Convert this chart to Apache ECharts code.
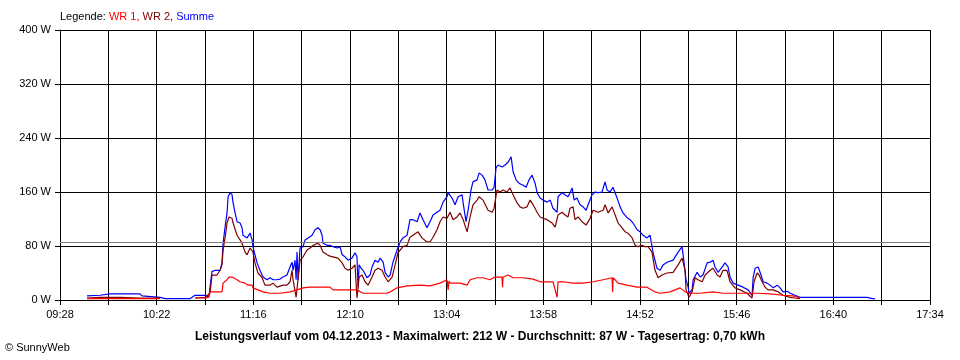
<!DOCTYPE html>
<html><head><meta charset="utf-8">
<script src="https://cdn.jsdelivr.net/npm/echarts@6/dist/echarts.min.js"></script>
<style>html,body{margin:0;padding:0;background:#fff}#c{width:960px;height:360px}</style>
</head><body><div id="c"></div>
<script>
// x values: minutes after 09:28
const timeLabels = ['09:28','10:22','11:16','12:10','13:04','13:58','14:52','15:46','16:40','17:34'];
const yMax = 400;
const yStep = 80;
const averageW = 85;
const legendParts = ['Legende: ', 'WR 1, ', 'WR 2, ', 'Summe'];
const titleText = 'Leistungsverlauf vom 04.12.2013 - Maximalwert: 212 W - Durchschnitt: 87 W - Tagesertrag: 0,70 kWh';
const creditText = '\u00A9 SunnyWeb';

const summe = [[15.1,6],[22.3,7],[27.9,9],[44.7,9],[45.8,6],[55.9,4],[58.7,2],[72.6,2],[75.4,7],[81.0,7],
[83.2,4],[83.8,19],[84.9,42],[86.6,44],[89.4,44],[90.5,55],[91.1,84],[92.2,108],[93.3,129],[93.9,153],
[95.0,159],[96.1,156],[96.7,144],[97.8,129],[98.9,116],[100.6,114],[101.7,107],[102.2,96],[104.5,92],[106.2,99],
[107.3,89],[107.8,79],[108.9,67],[110.1,55],[111.7,44],[113.4,34],[115.6,30],[117.3,33],[119.0,30],[121.2,30],
[122.9,31],[124.6,34],[126.8,37],[128.5,49],[129.6,56],[130.2,44],[131.3,59],[131.9,30],[132.4,71],[133.0,30],
[134.1,77],[135.8,79],[136.9,89],[138.6,92],[140.8,96],[142.5,104],[144.1,107],[145.3,104],[146.4,96],[146.9,84],
[149.2,81],[150.8,81],[152.5,79],[154.8,77],[156.4,79],[157.6,67],[159.2,64],[160.9,59],[163.1,62],[164.8,70],
[165.9,64],[166.5,19],[167.1,52],[168.2,47],[169.3,44],[171.5,33],[173.2,37],[174.3,49],[176.0,59],[177.7,56],
[178.8,62],[180.5,56],[181.6,41],[183.3,34],[184.4,37],[186.0,56],[188.3,74],[190.0,86],[191.6,92],[193.9,96],
[195.5,119],[197.2,119],[199.5,116],[201.1,129],[202.8,119],[205.0,107],[206.7,116],[208.4,126],[210.6,130],[212.3,133],
[214.0,145],[216.2,153],[216.8,159],[217.9,160],[219.0,151],[220.7,141],[222.4,153],[224.6,156],[225.2,144],[226.8,116],
[228.0,133],[229.6,163],[230.7,175],[233.0,178],[234.1,188],[235.8,185],[237.4,178],[239.1,163],[241.4,163],[242.5,167],
[243.6,196],[244.7,200],[247.0,197],[248.6,200],[250.3,204],[252.0,212],[253.1,190],[254.8,178],[256.4,173],[258.7,170],
[260.4,167],[262.0,178],[263.7,185],[265.4,173],[266.5,159],[268.2,151],[269.8,148],[272.1,145],[273.8,148],[275.4,136],
[277.7,130],[278.2,153],[280.5,159],[282.1,156],[283.8,153],[284.9,159],[286.1,166],[287.2,148],[288.8,151],[290.5,141],
[292.2,138],[293.9,133],[295.0,141],[297.2,156],[298.9,160],[300.6,159],[302.8,160],[304.5,175],[305.6,163],[307.3,160],
[308.9,167],[311.2,151],[312.9,138],[314.5,129],[316.8,122],[318.5,119],[320.1,114],[322.4,104],[324.0,101],[325.7,96],
[327.9,92],[329.6,96],[331.3,70],[333.5,47],[335.2,44],[336.9,52],[339.1,56],[342.5,59],[345.3,71],[347.5,79],
[348.6,56],[349.7,30],[350.9,19],[351.4,10],[353.1,15],[353.7,30],[355.9,41],[357.6,34],[359.2,37],[361.5,55],
[363.2,56],[364.8,59],[365.9,49],[367.6,41],[369.9,49],[371.5,55],[373.2,49],[374.3,34],[376.0,25],[378.8,22],
[381.6,19],[384.4,15],[386.6,7],[387.2,33],[388.3,47],[390.0,49],[391.6,37],[392.8,27],[395.0,25],[396.7,22],
[398.4,18],[400.6,22],[402.3,18],[403.9,12],[406.2,13],[407.9,10],[410.6,7],[413.4,4],[420.7,4],[435.8,4],
[447.0,4],[450.9,4],[453.7,2],[455.3,2]];

const wr2 = [[15.1,3],[22.3,4],[33.5,4],[44.7,3],[55.9,3],[60,'-'],[75.4,3],[81.0,4],[83.8,10],[84.9,37],
[87.7,37],[89.4,44],[90.5,52],[91.1,74],[92.2,92],[93.3,114],[94.4,123],[96.1,121],[96.7,114],[98.9,96],
[100.6,89],[101.7,84],[103.4,71],[104.5,67],[106.2,77],[107.8,71],[108.9,55],[110.6,40],[112.9,33],[114.5,22],
[117.3,22],[119.0,25],[121.2,19],[124.6,22],[126.8,22],[128.5,27],[129.6,44],[130.2,30],[131.9,4],[132.4,3],
[134.1,59],[135.8,64],[138.0,74],[139.7,77],[141.4,81],[144.1,84],[145.3,81],[146.9,71],[149.2,67],[150.8,65],
[152.5,64],[155.3,62],[157.6,55],[159.2,47],[160.9,44],[163.1,47],[164.8,52],[165.9,3],[167.1,34],[168.7,37],
[170.4,27],[172.1,22],[174.3,34],[176.0,44],[177.7,47],[179.9,44],[181.6,34],[183.3,27],[185.5,34],[187.2,52],
[188.8,70],[191.6,79],[193.9,81],[195.5,93],[197.2,96],[200.0,101],[202.2,92],[205.0,86],[206.7,86],[208.4,93],
[210.6,104],[212.3,116],[214.0,123],[216.2,121],[217.9,130],[219.6,119],[221.8,123],[223.5,129],[225.2,119],[227.4,101],
[229.1,123],[230.7,141],[233.0,148],[234.1,153],[236.3,148],[239.1,133],[241.4,130],[242.5,136],[244.1,163],[245.8,160],
[247.5,163],[249.7,160],[251.4,166],[253.1,156],[255.3,144],[257.0,138],[258.7,136],[260.9,138],[262.6,148],[264.3,141],
[266.5,130],[268.2,123],[269.8,121],[272.1,119],[274.9,114],[276.6,108],[278.2,126],[280.5,130],[282.1,126],[283.8,123],
[284.9,136],[286.6,138],[287.7,119],[289.4,123],[291.6,116],[293.9,111],[296.1,121],[297.8,133],[300.6,130],[303.4,133],
[304.5,141],[306.2,129],[308.4,138],[310.1,126],[311.8,114],[314.0,107],[315.7,101],[317.3,99],[319.6,92],[321.3,81],
[322.9,79],[325.2,81],[326.8,79],[328.5,79],[330.7,71],[332.4,44],[334.1,33],[336.3,37],[339.1,40],[342.5,41],
[345.3,52],[347.5,62],[349.2,44],[349.7,15],[351.4,4],[353.1,12],[354.8,33],[356.4,30],[358.7,27],[360.4,37],
[363.2,44],[364.8,47],[367.1,37],[368.7,34],[370.4,44],[372.6,44],[374.3,27],[377.1,18],[379.9,15],[383.8,10],
[386.6,3],[387.7,27],[389.4,40],[390.5,37],[392.2,27],[393.9,19],[395.5,15],[398.4,15],[401.2,12],[403.9,7],
[407.9,4],[410.6,3],[413.4,2]];

const wr1 = [[15.1,2],[55.9,2],[58,'-'],[75.4,3],[81.0,3],[82.7,4],[83.8,12],[90.5,12],[91.1,25],[93.3,30],
[94.4,34],[96.1,34],[96.7,33],[98.9,30],[100.6,27],[103.4,25],[105.0,22],[107.3,22],[107.8,18],[110.6,15],
[113.4,12],[117.3,10],[122.9,10],[128.5,12],[132.4,15],[135.8,18],[139.7,19],[145.3,19],[150.8,19],[152.5,15],
[165.9,15],[169.3,10],[182.7,10],[184.4,12],[188.3,18],[193.9,21],[201.1,22],[206.7,21],[212.3,25],[216.2,30],
[216.8,15],[217.3,28],[217.9,25],[223.5,25],[227.4,22],[229.1,30],[233.0,33],[236.3,33],[240.2,30],[243.0,34],
[246.9,34],[247.2,19],[247.5,34],[250.3,37],[253.1,33],[258.7,33],[264.3,31],[268.2,27],[275.4,27],[277.7,4],
[278.2,27],[281.0,27],[286.6,25],[292.2,25],[297.8,27],[303.4,30],[308.4,33],[308.7,12],[309.0,33],[311.8,25],
[316.8,22],[322.4,19],[327.9,19],[332.4,12],[335.2,10],[340.8,12],[346.4,18],[349.2,12],[351.9,10],[357.6,10],
[364.8,12],[370.4,10],[378.2,10],[383.8,10],[389.4,10],[396.7,9],[403.9,7],[409.5,6],[413.4,3]];

const FONT = 'Liberation Sans, Arial, sans-serif';
const chart = echarts.init(document.getElementById('c'), null, {renderer: 'canvas'});
function lineSeries(name, data, color) {
  return {name, type: 'line', data, showSymbol: false, symbol: 'none',
    lineStyle: {color, width: 1.2}, itemStyle: {color}, connectNulls: false, silent: true};
}
const sumSeries = lineSeries('Summe', summe, '#0000ff');
sumSeries.markLine = {silent: true, symbol: 'none', label: {show: false},
  lineStyle: {color: '#808080', type: 'solid', width: 1}, data: [{yAxis: averageW}]};
chart.setOption({
  animation: false,
  textStyle: {fontFamily: FONT},
  grid: {left: 60, right: 30, top: 30, bottom: 60},
  title: [
    {left: 60, top: 11, padding: 0, text: '{k|' + legendParts[0] + '}{a|' + legendParts[1] + '}{b|' + legendParts[2] + '}{c|' + legendParts[3] + '}',
     textStyle: {fontSize: 11, fontWeight: 'normal', fontFamily: FONT, rich: {
       k: {color: '#000', fontSize: 11, fontFamily: FONT},
       a: {color: '#ff0000', fontSize: 11, fontFamily: FONT},
       b: {color: '#800000', fontSize: 11, fontFamily: FONT},
       c: {color: '#0000ff', fontSize: 11, fontFamily: FONT}}}},
    {left: 'center', top: 331, padding: 0, text: titleText,
     textStyle: {fontSize: 12, fontWeight: 'bold', color: '#000', fontFamily: FONT}},
    {left: 5, top: 342, padding: 0, text: creditText,
     textStyle: {fontSize: 11, fontWeight: 'normal', color: '#000', fontFamily: FONT}}
  ],
  xAxis: {type: 'value', min: 0, max: 486, interval: 27,
    axisLine: {show: true, lineStyle: {color: '#000', width: 1}},
    axisTick: {show: true, length: 5, lineStyle: {color: '#000'}},
    axisLabel: {margin: 9, color: '#000', fontSize: 11, fontFamily: FONT,
      formatter: v => (Math.round(v) % 54 === 0 ? timeLabels[Math.round(v) / 54] : '')},
    splitLine: {show: true, lineStyle: {color: '#000', width: 1}}},
  yAxis: {type: 'value', min: 0, max: yMax, interval: yStep,
    axisLine: {show: true, lineStyle: {color: '#000', width: 1}},
    axisTick: {show: true, length: 5, lineStyle: {color: '#000'}},
    axisLabel: {margin: 9, color: '#000', fontSize: 11, fontFamily: FONT, formatter: '{value} W'},
    splitLine: {show: true, lineStyle: {color: '#000', width: 1}}},
  series: [sumSeries, lineSeries('WR 2', wr2, '#800000'), lineSeries('WR 1', wr1, '#ff0000')]
});
</script></body></html>
